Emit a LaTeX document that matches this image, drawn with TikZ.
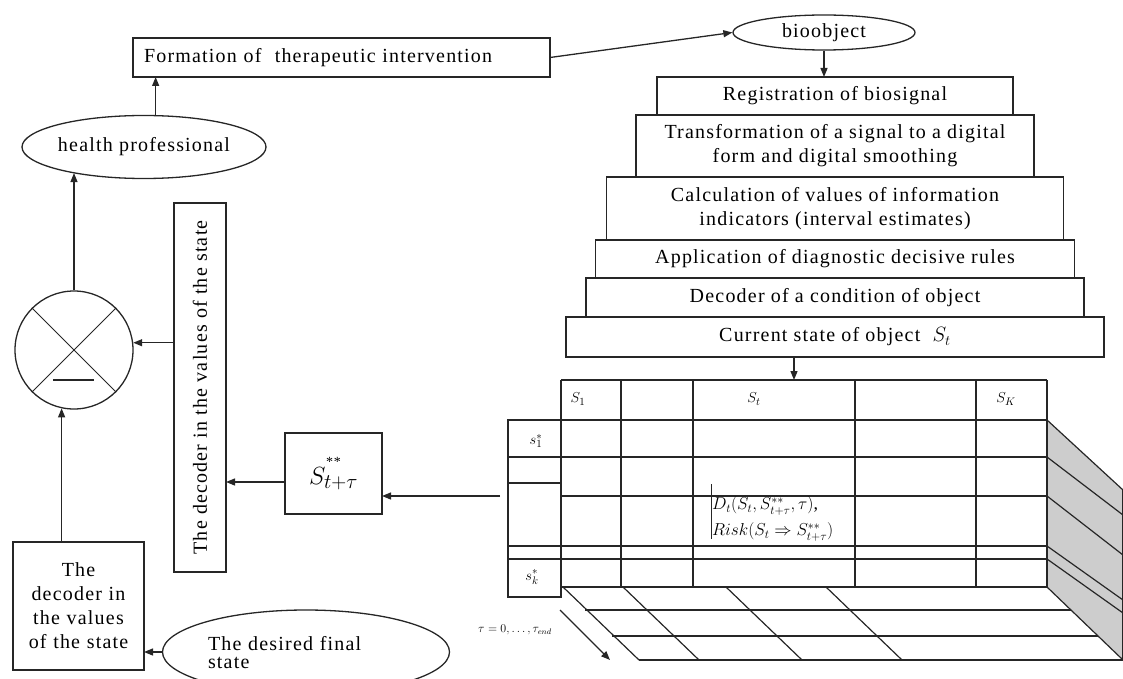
\documentclass[tikz,border=0pt]{standalone}
\usepackage{fontspec}
\setmainfont[LetterSpace=6]{Liberation Serif}
\usepackage{graphicx}
\usetikzlibrary{arrows.meta,calc,positioning,shapes.geometric}
\definecolor{Ink}{HTML}{262626}
\definecolor{Side}{HTML}{CDCDCD}
\tikzset{box/.style={draw=Ink,line width=1.3pt,outer sep=0pt,align=center,inner sep=2pt},oval/.style={ellipse,draw=Ink,line width=1.3pt,inner sep=0pt},flow/.style={-{Triangle[length=9pt,width=7pt]},line width=1.3pt,draw=Ink},grid/.style={draw=Ink,line width=1.2pt},cell/.style={font=\fontsize{15}{17}\selectfont,inner sep=0pt}}

\begin{document}
\begin{tikzpicture}[x=1pt,y=-1pt,every node/.style={font=\fontsize{20}{24}\selectfont}]
\useasboundingbox (0,0) rectangle (1123,679);
% feedback loop on the left
\node[box,minimum width=417pt,minimum height=39pt,text width=395pt,align=left](form) at (341.5,57.5){Formation of~ therapeutic intervention};
\node[oval,minimum width=182pt,minimum height=35pt](bio) at (824,32.5){bioobject};
\node[oval,minimum width=244pt,minimum height=63pt](hp) at (144,147){health professional};
\node[circle,draw=Ink,line width=1.3pt,minimum size=118pt,inner sep=0pt](sum) at (74,350){};
\draw[line width=1pt,draw=Ink](sum.north west)--(sum.south east)(sum.north east)--(sum.south west);
\draw[line width=1.3pt,draw=Ink]($(sum.center)+(-21,30)$)--++(41,0);
\node[box,minimum width=52pt,minimum height=369pt](vbox) at (200,387.5){\rotatebox{90}{The decoder in the values of the state}};
\node[box,minimum width=97pt,minimum height=81pt](sbox) at (333.5,473.5){{\fontsize{14}{12}\selectfont **}\\[-6pt]{\fontsize{30}{30}\selectfont$S_{t+\tau}$}};
\node[box,minimum width=131pt,minimum height=128pt,text width=124pt](dec) at (78.5,606){The\\decoder in\\the values\\of the state};
\node[oval,minimum width=287pt,minimum height=84pt](goal) at (306,652){};
\node[text width=180pt,align=left,inner sep=0pt](goaltxt) at (298,653){The desired final\\[-6pt]state};
% processing chain
\node[box,minimum width=356pt,minimum height=38pt](reg) at (835,96){Registration of biosignal};
\node[box,minimum width=398pt,minimum height=62pt,below=0pt of reg](dig){Transformation of a signal to a digital\\form and digital smoothing};
\node[box,minimum width=457pt,minimum height=63pt,below=0pt of dig](ind){Calculation of values of information\\indicators (interval estimates)};
\node[box,minimum width=479pt,minimum height=38pt,below=0pt of ind](rule){Application of diagnostic decisive rules};
\node[box,minimum width=498pt,minimum height=39pt,below=0pt of rule](cond){Decoder of a condition of object};
\node[box,minimum width=538pt,minimum height=40pt,below=0pt of cond](cur){Current state of object~ $S_t$};
% state table with its side and floor
\fill[Side](1047,420)--(1123,490)--(1123,660)--(1047,587)--cycle;
\foreach \x in {561,621,693,855,976,1047} \draw[grid](\x,380)--(\x,587);
\foreach \y in {380,420,457,496,546,559,587} \draw[grid](561,\y)--(1047,\y);
\draw[grid](508,420) rectangle (561,597);
\foreach \y in {457,483,546,559} \draw[grid](508,\y)--(561,\y);
\foreach \a/\b in {420/490,457/515,496/555,546/600,559/613,587/660} \draw[grid](1047,\a)--(1123,\b);
\draw[grid](1123,490)--(1123,660);
\foreach \y/\a/\b in {610/585/1071,636/612/1098,660/639/1123} \draw[grid](\a,\y)--(\b,\y);
\foreach \x in {563,623,726,826} \draw[grid](\x,587)--++(76,73);
\node[cell](h1) at (578,399){$S_1$};
\node[cell](ht) at (754,399){$S_t$};
\node[cell](hk) at (1006,399){$S_K$};
\node[cell](r1) at (536,441){$s_1^{*}$};
\node[cell](rk) at (532,577){$s_k^{*}$};
\draw[line width=1pt,draw=Ink](711,484)--(711,539);
\node[cell,anchor=west,font=\fontsize{18}{20}\selectfont](dt) at (712,506){$D_t(S_t,S^{**}_{t+\tau},\tau)$,};
\node[cell,anchor=west,font=\fontsize{18}{20}\selectfont](risk) at (712,532){$Risk(S_t\Rightarrow S^{**}_{t+\tau})$};
\coordinate(thead) at (794,380);
\coordinate(tin) at (500,496);
\coordinate(tau) at (560,610);
\node[cell,font=\fontsize{12}{14}\selectfont](taulbl) at (515,630){$\tau=0,\ldots,\tau_{end}$};
% connectors
\draw[flow](form.east)--(bio.west);
\draw[flow](bio.south)--(bio.south|-reg.north);
\draw[flow](cur.south-|thead)--(thead);
\draw[flow](tin)--(tin-|sbox.east);
\draw[flow]([yshift=-8.5pt]sbox.west)--([yshift=-8.5pt]sbox.west-|vbox.east);
\draw[flow](vbox.west|-sum.7)--(sum.7);
\draw[flow](dec.north-|sum.258)--(sum.258);
\draw[flow](sum.north)--(sum.north|-hp.200);
\draw[flow](hp.70)--(hp.70|-form.south);
\draw[flow](goal.west)--(goal.west-|dec.east);
\draw[flow](tau)--++(50,50);
\end{tikzpicture}
\end{document}
